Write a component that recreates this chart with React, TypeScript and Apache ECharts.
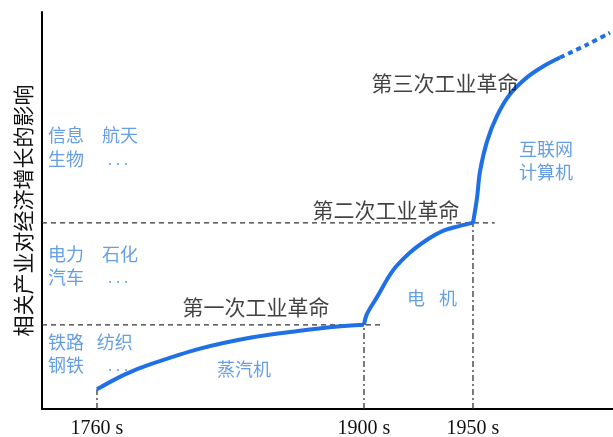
import React, { useEffect, useRef } from "react";
import * as echarts from "echarts";

// Axis: x in timeline units (0–100), y in influence units (0–100)
const xTickPositions = [9.63, 56.39, 75.48];
const xTickLabels = ["1760 s", "1900 s", "1950 s"];
const yAxisTitle = "相关产业对经济增长的影响";

// Curves (x, y)
const firstRevolution = [
  [9.63, 4.99], [14.54, 8.73], [18.91, 11.22], [27.67, 15.21],
  [36.43, 17.96], [45.18, 19.7], [51.31, 20.7], [56.39, 21.2],
];
const secondRevolution = [
  [56.39, 21.2], [56.92, 23.94], [58.67, 28.18], [61.47, 34.91],
  [64.45, 39.4], [67.43, 42.64], [70.23, 44.89], [73.2, 46.13], [75.48, 46.88],
];
const thirdRevolution = [
  [75.48, 46.88], [76.18, 53.12], [76.71, 59.85], [77.93, 67.33],
  [79.68, 73.82], [81.96, 79.3], [84.94, 83.54], [87.74, 86.28], [90.72, 88.53],
];
const futureTrend = [[90.72, 88.53], [95.45, 91.77], [99.47, 94.76]];

// Guide levels
const levelLines = [
  [[0, 21.2], [59.2, 21.2]],
  [[0, 46.88], [79.3, 46.88]],
];
const dropLines = [
  [[9.63, 0], [9.63, 4.99]],
  [[56.39, 0], [56.39, 21.2]],
  [[75.48, 0], [75.48, 46.88]],
];

// Annotations
const revolutionNames = ["第一次工业革命", "第二次工业革命", "第三次工业革命"];
const revolutionAnchors = [[37.48, 25.94], [60.25, 50.37], [70.58, 82.29]];
const techNames = ["蒸汽机", "电", "机", "互联网", "计算机"];
const techAnchors = [[35.38, 10.22], [65.5, 28.18], [71.1, 28.18], [88.27, 65.84], [88.27, 59.85]];
const industryNames = ["铁路", "纺织", "钢铁", "电力", "石化", "汽车", "信息", "航天", "生物"];
const industryAnchors = [
  [1.05, 17.21], [9.6, 17.21], [1.05, 11.22],
  [1.05, 39.4], [10.5, 39.4], [1.05, 33.42],
  [1.05, 69.33], [10.5, 69.33], [1.05, 63.34],
];
const ellipsisText = [". . .", ". . .", ". . ."];
const ellipsisAnchors = [[11.56, 10.9], [11.56, 33.0], [11.56, 62.9]];

const BLUE = "#1f6fe5";
const TEXT_BLUE = "#3f86de";
const CJK = "'Noto Sans CJK SC', sans-serif";

export default function App() {
  const ref = useRef<HTMLDivElement>(null);
  useEffect(() => {
    if (!ref.current) return;
    const chart = echarts.init(ref.current, undefined, { renderer: "svg" });
    const curve = (data: number[][], dashed = false) => ({
      type: "line",
      data,
      smooth: 0.35,
      symbol: "none",
      lineStyle: { color: BLUE, width: 4, type: dashed ? [5, 4] : "solid" },
      z: 5,
    });
    const guide = (data: number[][], type: any) => ({
      type: "line",
      data,
      symbol: "none",
      lineStyle: { color: "#333", width: 1.3, type },
      z: 3,
    });
    const labels = (
      names: string[],
      anchors: number[][],
      color: string,
      size: number,
      align: string,
      family = CJK
    ) => ({
      type: "scatter",
      symbolSize: 0,
      data: anchors.map((a, i) => ({ value: a, name: names[i] })),
      label: {
        show: true,
        position: "inside",
        formatter: (p: any) => p.name,
        color,
        fontSize: size,
        fontFamily: family,
        align,
        verticalAlign: "middle",
      },
      z: 10,
    });
    chart.setOption({
      animation: false,
      grid: { left: 42, right: 0, top: 12, bottom: 24 },
      xAxis: {
        type: "value",
        min: 0,
        max: 100,
        axisLine: { show: true, lineStyle: { color: "#000", width: 2 } },
        axisTick: { show: false },
        splitLine: { show: false },
        axisLabel: {
          customValues: xTickPositions,
          formatter: (v: number) => {
            const i = xTickPositions.findIndex((p) => Math.abs(p - v) < 0.01);
            return i >= 0 ? xTickLabels[i] : "";
          },
          color: "#111",
          fontSize: 20,
          fontFamily: "'Liberation Serif', serif",
          margin: 8,
        },
      },
      yAxis: {
        type: "value",
        min: 0,
        max: 100,
        name: yAxisTitle,
        nameLocation: "middle",
        nameRotate: 90,
        nameGap: 10,
        nameTextStyle: { color: "#111", fontSize: 21, fontFamily: CJK },
        axisLine: { show: true, lineStyle: { color: "#000", width: 2 } },
        axisTick: { show: false },
        axisLabel: { show: false },
        splitLine: { show: false },
      },
      series: [
        ...levelLines.map((d) => guide(d, [5, 4])),
        ...dropLines.map((d) => guide(d, [6, 3, 2, 3])),
        curve(firstRevolution),
        curve(secondRevolution),
        curve(thirdRevolution),
        curve(futureTrend, true),
        labels(revolutionNames, revolutionAnchors, "#111", 21, "center"),
        labels(techNames, techAnchors, TEXT_BLUE, 18, "center"),
        labels(industryNames, industryAnchors, TEXT_BLUE, 18, "left"),
        labels(ellipsisText, ellipsisAnchors, TEXT_BLUE, 16, "left", "'Liberation Serif', serif"),
      ],
    });
    return () => chart.dispose();
  }, []);
  return <div ref={ref} style={{ position: "fixed", left: 0, top: 0, width: 613, height: 437 }} />;
}
